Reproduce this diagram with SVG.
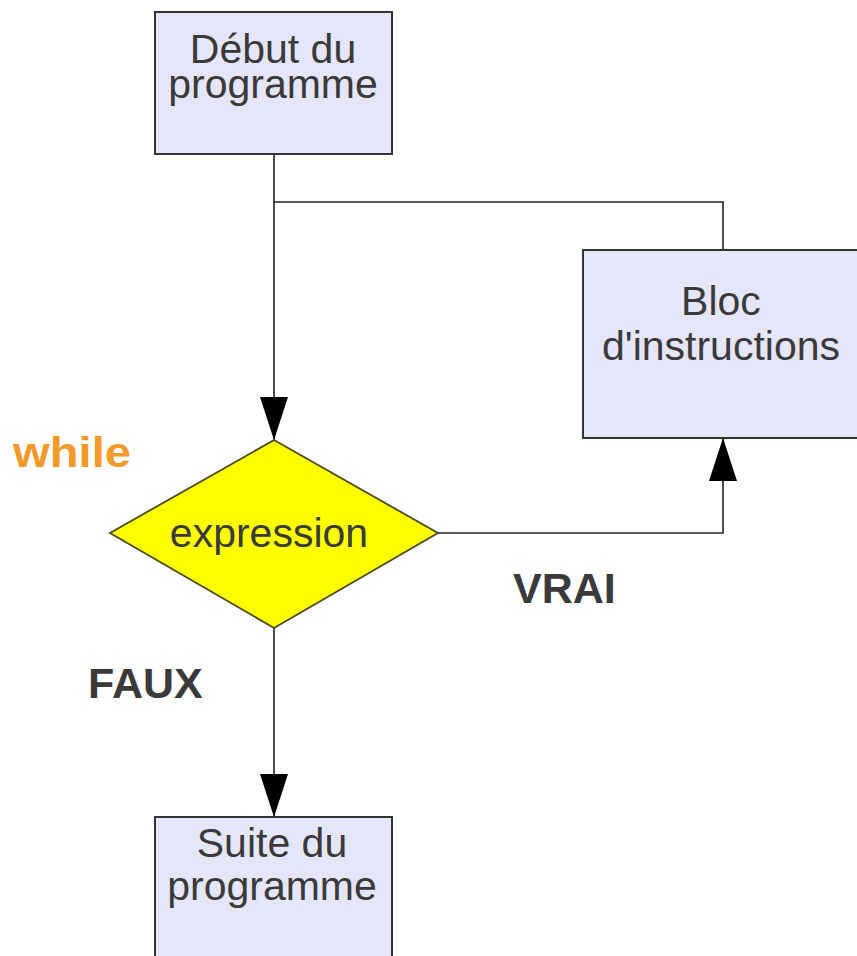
<svg xmlns="http://www.w3.org/2000/svg" width="857" height="956" viewBox="0 0 857 956">
<style>
.box{fill:#e6e6fa;stroke:#333;stroke-width:2}
.dia{fill:#ffff00;stroke:#4a4a1a;stroke-width:1.8}
.lbl{font-family:"Liberation Sans",Arial,sans-serif;font-size:41px;fill:#3a3a3a;text-anchor:middle}
.bold{font-family:"Liberation Sans",Arial,sans-serif;font-size:43px;font-weight:bold;fill:#3a3a3a}
.con{fill:none;stroke:#222;stroke-width:1.6}
</style>
<defs>
<marker id="arr" markerUnits="userSpaceOnUse" markerWidth="44" markerHeight="30" refX="43" refY="14" orient="auto" viewBox="0 0 44 28">
<path d="M0,0 L43,14 L0,28 z" fill="#000"/>
</marker>
</defs>
<rect width="857" height="956" fill="#fff"/>
<g id="connectors">
<path class="con" d="M274,154 V440" marker-end="url(#arr)"/>
<path class="con" d="M274,202 H723 V250"/>
<path class="con" d="M438,533 H723 V438" marker-end="url(#arr)"/>
<path class="con" d="M274,628 V817" marker-end="url(#arr)"/>
</g>
<g id="debut">
<rect class="box" x="155" y="12" width="237" height="142"/>
<text class="lbl" x="273" y="63">Début du</text>
<text class="lbl" x="273" y="98">programme</text>
</g>
<g id="bloc">
<rect class="box" x="583" y="250" width="280" height="188"/>
<text class="lbl" x="721" y="315">Bloc</text>
<text class="lbl" x="721" y="360">d'instructions</text>
</g>
<g id="expression">
<polygon class="dia" points="274,440 438,533 274,628 110,533"/>
<text class="lbl" x="269" y="547">expression</text>
</g>
<g id="suite">
<rect class="box" x="155" y="817" width="237" height="150"/>
<text class="lbl" x="272" y="857">Suite du</text>
<text class="lbl" x="272" y="900">programme</text>
</g>
<g id="labels">
<text class="bold" x="13" y="467" fill="#f39a2c" style="fill:#f39a2c" textLength="118" lengthAdjust="spacingAndGlyphs">while</text>
<text class="bold" x="513" y="603">VRAI</text>
<text class="bold" x="88" y="698">FAUX</text>
</g>
</svg>
